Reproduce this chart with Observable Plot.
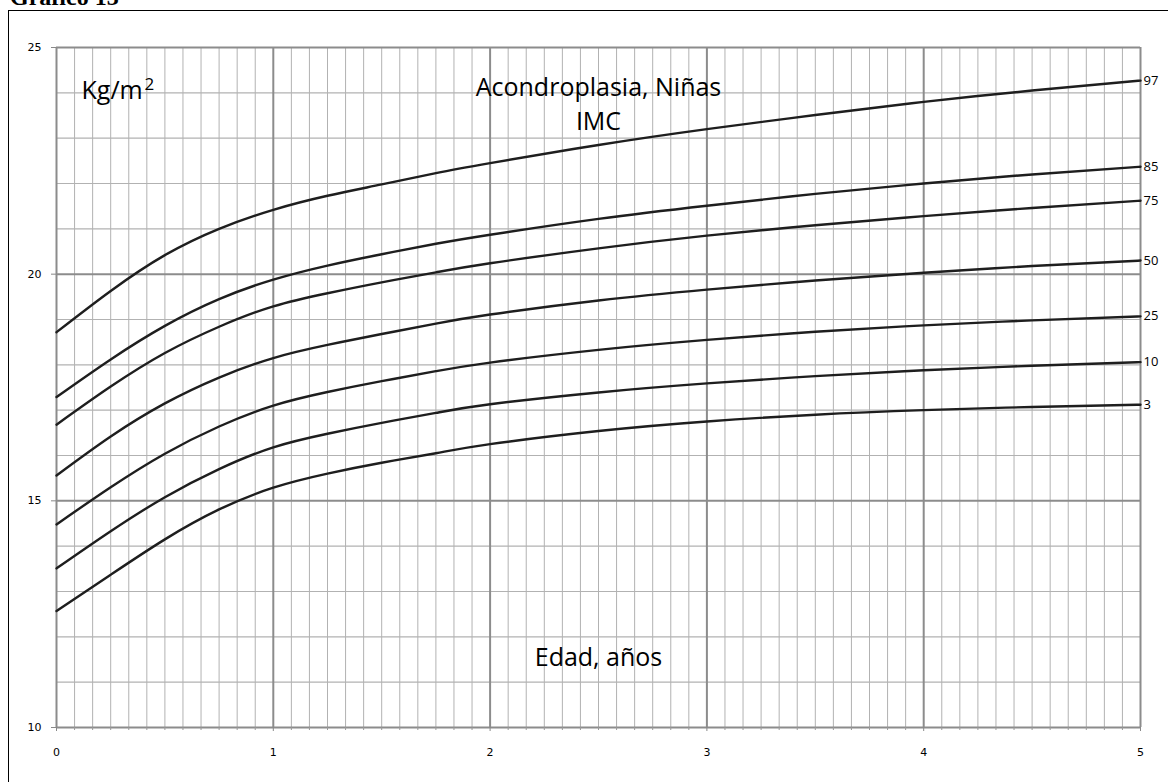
<!DOCTYPE html>
<html>
<head>
<meta charset="utf-8">
<script src="https://cdn.jsdelivr.net/npm/d3@7"></script>
<script src="https://cdn.jsdelivr.net/npm/@observablehq/plot@0.6"></script>
<style>
  html, body { margin: 0; padding: 0; background: #fff; overflow: hidden; }
  #wrap { position: relative; width: 1168px; height: 782px; overflow: hidden; }
  #title { position: absolute; left: 10px; top: -15px; font: bold 24px "Liberation Serif", serif; line-height: 24px; color: #000; white-space: nowrap; }
  #box { position: absolute; left: 8px; top: 10px; width: 1200px; height: 800px; border: 1px solid #000; box-sizing: border-box; }
  #chart { position: absolute; left: 0; top: 0; }
</style>
</head>
<body>
<div id="wrap">
  <div id="title">Gráfico 13</div>
  <div id="box"></div>
  <div id="chart"></div>
</div>
<script>
// Ages (years) at which the curves were read
const ages = [0, 0.25, 0.5, 0.75, 1, 1.25, 1.5, 1.75, 2, 2.5, 3, 3.5, 4, 4.5, 5];
// BMI percentile curves (kg/m²)
const p97 = [18.72, 19.63, 20.42, 21.00, 21.42, 21.73, 21.98, 22.23, 22.45, 22.85, 23.20, 23.51, 23.80, 24.05, 24.27];
const p85 = [17.29, 18.12, 18.86, 19.45, 19.88, 20.19, 20.44, 20.67, 20.87, 21.22, 21.51, 21.77, 22.00, 22.20, 22.37];
const p75 = [16.68, 17.52, 18.26, 18.84, 19.29, 19.58, 19.82, 20.04, 20.24, 20.57, 20.85, 21.08, 21.28, 21.46, 21.62];
const p50 = [15.56, 16.42, 17.15, 17.72, 18.15, 18.44, 18.68, 18.91, 19.11, 19.42, 19.66, 19.86, 20.03, 20.18, 20.30];
const p25 = [14.48, 15.30, 16.04, 16.64, 17.10, 17.40, 17.64, 17.86, 18.05, 18.33, 18.55, 18.73, 18.87, 18.98, 19.07];
const p10 = [13.51, 14.33, 15.08, 15.70, 16.18, 16.48, 16.72, 16.94, 17.13, 17.39, 17.59, 17.75, 17.88, 17.98, 18.06];
const p3  = [12.57, 13.37, 14.15, 14.81, 15.29, 15.60, 15.84, 16.05, 16.25, 16.54, 16.75, 16.90, 17.00, 17.07, 17.12];
const percentileNames = ["97", "85", "75", "50", "25", "10", "3"];
const percentileSeries = [p97, p85, p75, p50, p25, p10, p3];

// Tick values
const xMajorTicks = [0, 1, 2, 3, 4, 5];
const xMinorTicks = d3.range(0, 61).map(i => i / 12).filter(v => Math.abs(v - Math.round(v)) > 1e-9);
const yMajorTicks = [10, 15, 20, 25];
const yMinorTicks = [11, 12, 13, 14, 16, 17, 18, 19, 21, 22, 23, 24];

const rows = [];
percentileSeries.forEach((s, k) => s.forEach((v, i) => rows.push({p: percentileNames[k], age: ages[i], bmi: v})));
const ends = percentileSeries.map((s, k) => ({p: percentileNames[k], age: ages[ages.length - 1], bmi: s[s.length - 1]}));

const chart = Plot.plot({
  width: 1168,
  height: 782,
  marginLeft: 56,
  marginRight: 28,
  marginTop: 47,
  marginBottom: 55,
  x: {domain: [0, 5], label: null},
  y: {domain: [10, 25], label: null},
  style: {fontFamily: "DejaVu Sans", fontSize: "11px", background: "transparent", color: "#000"},
  marks: [
    Plot.ruleX(xMinorTicks, {stroke: "#b2b2b2", strokeWidth: 1}),
    Plot.ruleY(yMinorTicks, {stroke: "#b2b2b2", strokeWidth: 1.2}),
    Plot.ruleX(xMajorTicks, {stroke: "#8c8c8c", strokeWidth: 2}),
    Plot.ruleY(yMajorTicks, {stroke: "#8c8c8c", strokeWidth: 2}),
    Plot.axisX(xMinorTicks, {tickSize: 3, tickFormat: () => "", stroke: "#999", label: null}),
    Plot.axisX(xMajorTicks, {tickSize: 4, tickPadding: 17, tickFormat: d3.format("d"), stroke: "#888", label: null, fill: "#000"}),
    Plot.axisY(yMajorTicks, {tickSize: 5, tickPadding: 10, tickFormat: d3.format("d"), stroke: "#888", label: null, fill: "#000"}),
    Plot.line(rows, {x: "age", y: "bmi", z: "p", stroke: "#1e1e1e", strokeWidth: 2.4, curve: "natural"}),
    Plot.text(ends, {x: "age", y: "bmi", text: "p", dx: 3, textAnchor: "start", fontFamily: "Open Sans", fontSize: 13, fill: "#000"}),
    Plot.text(["Kg/m"], {frameAnchor: "top-left", dx: 25, dy: 34, textAnchor: "start", fontFamily: "Open Sans", fontSize: 25, fill: "#000"}),
    Plot.text(["2"], {frameAnchor: "top-left", dx: 88, dy: 30, textAnchor: "start", fontFamily: "Open Sans", fontSize: 17, fill: "#000"}),
    Plot.text(["Acondroplasia, Niñas"], {frameAnchor: "top", dy: 31, fontFamily: "Open Sans", fontSize: 25, fill: "#000"}),
    Plot.text(["IMC"], {frameAnchor: "top", dy: 65, fontFamily: "Open Sans", fontSize: 25, fill: "#000"}),
    Plot.text(["Edad, años"], {frameAnchor: "bottom", dx: 0, dy: -62, fontFamily: "Open Sans", fontSize: 25, fill: "#000"})
  ]
});
document.getElementById("chart").appendChild(chart);
</script>
</body>
</html>
